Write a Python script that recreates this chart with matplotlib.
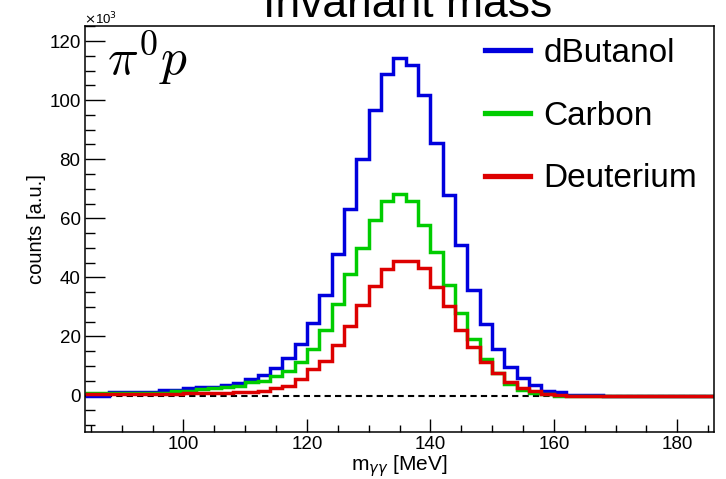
"""
Invariant mass of the two-photon system (pi0 p channel) for three targets.
"""

import numpy as np
import matplotlib
matplotlib.use("Agg")
import matplotlib.pyplot as plt
from matplotlib.lines import Line2D
from matplotlib.ticker import MultipleLocator

plt.rcParams["font.family"] = ["Liberation Sans", "DejaVu Sans"]

# histogram binning: 2 MeV bins from 84 to 186 MeV
BIN_LO = 84
BIN_HI = 186
BIN_W = 2

# counts per bin, in units of 10^3
dbutanol = [0, 0, 1.3, 1.3, 1.3, 1.3, 2.0, 2.0, 2.4, 2.8,
            2.8, 3.6, 4.2, 5.6, 6.9, 9.3, 12.6, 17.5, 24.5, 34.0,
            48.0, 63.1, 80.2, 96.7, 109.0, 114.3, 112.0, 101.6, 85.5, 68.0,
            51.0, 35.9, 24.2, 15.8, 9.7, 5.8, 3.6, 1.6, 1.1, 0.3,
            0.3, 0.3, 0, 0, 0, 0, 0, 0, 0, 0, 0]
carbon = [0.8, 0.8, 0.8, 0.8, 0.8, 0.8, 0.8, 1.6, 1.6, 2.2,
          2.4, 2.8, 3.3, 4.5, 5.0, 6.7, 8.4, 11.5, 15.8, 22.3,
          31.0, 41.0, 50.0, 59.3, 65.8, 68.3, 65.8, 57.6, 48.6, 37.4,
          28.0, 19.0, 12.5, 7.5, 3.8, 2.0, 1.0, 0.4, 0, 0,
          0, 0, 0, 0, 0, 0, 0, 0, 0, 0, 0]
deuterium = [0.4, 0.4, 0.4, 0.4, 0.4, 0.4, 0.4, 0.4, 0.75, 0.75,
             0.75, 0.75, 1.1, 1.1, 1.6, 2.4, 3.1, 5.6, 9.0, 11.7,
             17.0, 23.5, 30.5, 37.0, 43.0, 45.5, 45.5, 43.2, 36.8, 30.2,
             22.3, 16.6, 11.4, 7.7, 4.6, 2.7, 1.6, 0.5, 0.2, 0,
             0, 0, 0, 0, 0, 0, 0, 0, 0, 0, 0]

labels = ["dButanol", "Carbon", "Deuterium"]
colors = ["#0000dd", "#00cc00", "#dd0000"]


def main():
    fig = plt.figure(figsize=(7.26, 4.79), dpi=100)
    ax = fig.add_axes([0.1167, 0.0977, 0.8672, 0.848])

    edges = np.arange(BIN_LO, BIN_HI + BIN_W, BIN_W)

    ax.axhline(0, color="black", lw=1.5, ls=(0, (3, 2)), zorder=1)
    for vals, col in zip([dbutanol, carbon, deuterium], colors):
        ax.stairs(vals, edges, color=col, lw=2.5, baseline=None, zorder=2)

    ax.set_xlim(BIN_LO, BIN_HI)
    ax.set_ylim(-12.4, 125.1)

    ax.xaxis.set_major_locator(MultipleLocator(20))
    ax.xaxis.set_minor_locator(MultipleLocator(5))
    ax.yaxis.set_major_locator(MultipleLocator(20))
    ax.yaxis.set_minor_locator(MultipleLocator(5))
    ax.tick_params(axis="x", which="major", direction="in", length=9.5, width=1, labelsize=13.5, pad=3)
    ax.tick_params(axis="x", which="minor", direction="in", length=4.7, width=1)
    ax.tick_params(axis="y", which="major", direction="in", length=14.5, width=1, labelsize=13.5, pad=3)
    ax.tick_params(axis="y", which="minor", direction="in", length=7.5, width=1)
    for sp in ax.spines.values():
        sp.set_linewidth(1.1)

    ax.set_xlabel(r"m$_{\gamma\gamma}$ [MeV]", fontsize=15, labelpad=0,
                  math_fontfamily="dejavusans")
    ax.set_ylabel("counts [a.u.]", fontsize=14.5, labelpad=2)

    fig.text(84 / 726, 1 - 24 / 479, r"$\times$10$^{3}$", fontsize=9.5,
             ha="left", va="baseline")
    fig.text(408 / 726, 1 - 17 / 479, "Invariant mass", fontsize=32,
             ha="center", va="baseline")
    fig.text(107 / 726, 1 - 75 / 479, r"$\pi^{0}p$", fontsize=37,
             ha="left", va="baseline", math_fontfamily="cm")

    handles = [Line2D([], [], color=c, lw=3.8) for c in colors]
    ax.legend(handles, labels, loc="upper right", bbox_to_anchor=(697 / 726, 1 - 38 / 479),
              bbox_transform=fig.transFigure, frameon=False, fontsize=24,
              handlelength=1.35, handletextpad=0.4, labelspacing=0.95, borderpad=0,
              borderaxespad=0)

    fig.savefig("out.png", dpi=100)
    plt.close(fig)


if __name__ == "__main__":
    main()
